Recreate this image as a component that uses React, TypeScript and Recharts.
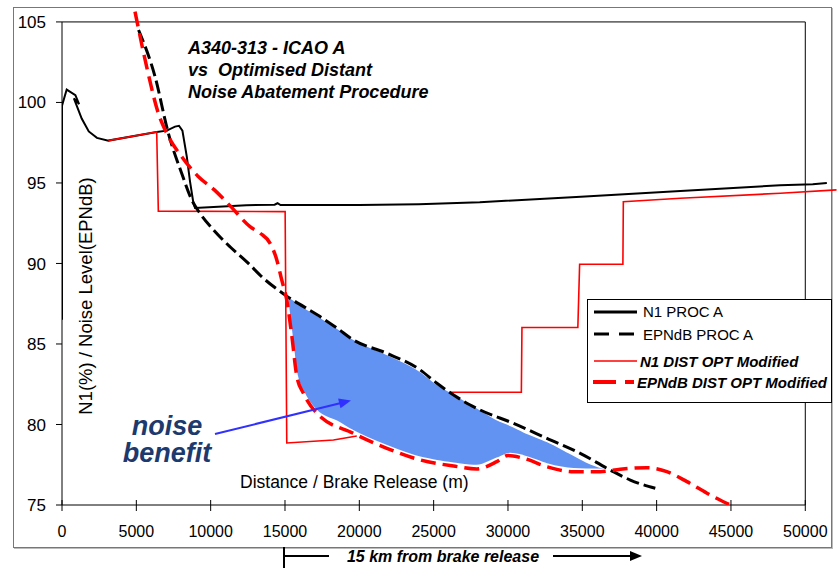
import React from 'react';
import {
  ComposedChart, Line, Area, XAxis, YAxis, ReferenceArea, Legend,
} from 'recharts';

// distance from brake release (m), value
const n1ProcA: [number, number][] = [
  [0, 86.5], [0, 99.8], [316, 100.8], [900, 100.45], [1150, 99.9], [800, 100.25],
  [1325, 99.0], [1800, 98.2], [2350, 97.8], [3120, 97.63], [6370, 98.17],
  [7050, 98.25], [7600, 98.5], [7870, 98.55], [8100, 98.25], [8400, 96.6],
  [8610, 95.1], [8840, 93.75], [8950, 93.45], [10200, 93.5], [12400, 93.62],
  [14300, 93.65], [14500, 93.74], [14700, 93.63], [16000, 93.63], [20000, 93.63],
  [24000, 93.68], [28100, 93.8], [34900, 94.15], [41600, 94.5], [48300, 94.86],
  [50500, 94.92], [51450, 95.0],
];

const epndbProcA: [number, number][] = [
  [5150, 104.5], [6260, 101.6], [7150, 98.1], [8050, 95.6], [8730, 93.94],
  [9290, 93.1], [10190, 92.08], [11300, 91.04], [12430, 90.1], [13550, 89.08],
  [15000, 88.05], [17360, 86.7], [18480, 86.0], [19600, 85.25], [21850, 84.42],
  [24090, 83.39], [25220, 82.56], [27460, 81.21], [28130, 80.9], [30370, 80.07],
  [32620, 79.14], [34860, 78.21], [36880, 77.17], [38230, 76.55], [39910, 76.04],
];

// N1 DIST OPT: the stretch under the noise-benefit band is hidden in the source
const n1DistOptEarly: [number, number][] = [
  [3120, 97.63], [6370, 98.17], [6480, 93.25], [15010, 93.22], [15120, 78.85],
  [18260, 79.04], [19830, 79.28],
];
const n1DistOptLate: [number, number][] = [
  [26100, 82.0], [30900, 82.0], [30940, 86.02], [34700, 86.02], [34820, 89.95],
  [37730, 89.95], [37760, 93.84], [41590, 94.05], [48320, 94.36], [52100, 94.57],
];

const epndbDistOpt: [number, number][] = [
  [4910, 105.64], [5700, 102.2], [6480, 99.33], [7040, 98.09], [8050, 96.63],
  [9180, 95.39], [10250, 94.57], [11360, 93.53], [12650, 92.29], [13330, 91.88],
  [14000, 91.25], [14450, 90.22], [14780, 88.98], [15120, 87.73], [15460, 85.5],
  [15800, 82.97], [16240, 81.94], [17140, 80.7], [19600, 79.45], [21850, 78.52],
  [24090, 77.8], [26340, 77.42], [27900, 77.24], [29250, 77.69], [30000, 78.08],
  [31050, 77.9], [32620, 77.38], [34410, 77.07], [36210, 77.07], [37550, 77.22],
  [39350, 77.32], [40690, 77.07], [42040, 76.45], [43390, 75.73], [44960, 75.0],
];

// noise benefit band: distance, lower, upper
const benefitBand: [number, number, number][] = [
  [15150, 87.95, 87.95], [15460, 85.6, 87.8], [15800, 83.1, 87.6],
  [16240, 82.05, 87.3], [17140, 80.85, 86.8], [18480, 80.2, 86.0],
  [19600, 79.6, 85.3], [21850, 78.68, 84.35], [24090, 77.96, 83.3],
  [25220, 77.75, 82.5], [26340, 77.6, 81.9], [27900, 77.45, 81.05],
  [29250, 77.9, 80.3], [30150, 78.2, 79.95], [31050, 78.05, 79.55],
  [32620, 77.55, 78.95], [34410, 77.25, 78.1], [35600, 77.22, 77.55],
  [36800, 77.2, 77.2],
];

const xTicks = [0, 5000, 10000, 15000, 20000, 25000, 30000, 35000, 40000, 45000, 50000];
const yTicks = [75, 80, 85, 90, 95, 100, 105];

const titleLines = ['A340-313 - ICAO A', 'vs  Optimised Distant', 'Noise Abatement Procedure'];

const FONT = "'Liberation Sans', Arial, sans-serif";

const toPts = (arr: [number, number][]) => arr.map(([x, y]) => ({ x, y }));

const XTick = ({ x, y, payload }: any) => (
  <g>
    <line x1={x} x2={x} y1={y - 5} y2={y + 6} stroke="#000" />
    <text x={x} y={y + 32} textAnchor="middle" fontSize={16} fill="#000" fontFamily={FONT}>
      {payload.value}
    </text>
  </g>
);

const LegendBox = () => (
  <div style={{
    width: 245, height: 104, boxSizing: 'border-box', border: '1px solid #000',
    background: '#fff',
  }}>
    <svg width={243} height={102} style={{ display: 'block' }} fontFamily={FONT}>
      <line x1={6} x2={49} y1={12} y2={12} stroke="#000" strokeWidth={3} />
      <text x={55} y={17} fontSize={15}>N1 PROC A</text>
      <line x1={6} x2={46} y1={34} y2={34} stroke="#000" strokeWidth={3} strokeDasharray="15 10" />
      <text x={55} y={39.5} fontSize={15}>EPNdB PROC A</text>
      <line x1={6} x2={49} y1={61} y2={61} stroke="#ff0000" strokeWidth={1.5} />
      <text x={52} y={66.5} fontSize={15} fontWeight="bold" fontStyle="italic">N1 DIST OPT Modified</text>
      <line x1={5} x2={46} y1={82} y2={82} stroke="#ff0000" strokeWidth={4} strokeDasharray="23 9" />
      <text x={49} y={87.5} fontSize={15} fontWeight="bold" fontStyle="italic">EPNdB DIST OPT Modified</text>
    </svg>
  </div>
);

export default function App() {
  const bandRows = benefitBand.map(([x, lo, hi]) => ({ x, range: [lo, hi] }));
  return (
    <div style={{ position: 'absolute', left: 0, top: 0, width: 839, height: 568, background: '#fff', fontFamily: FONT }}>
      <div style={{
        position: 'absolute', left: 13, top: 7, width: 819, height: 541,
        boxSizing: 'border-box', border: '1px solid #777', boxShadow: '1px 1px 0 #bbb',
      }} />
      <div style={{ position: 'absolute', left: 0, top: 0 }}>
        <ComposedChart width={839} height={568} margin={{ top: 1, right: 1, bottom: 33, left: 0 }}>
          <XAxis
            type="number" dataKey="x" domain={[0, 52200]} ticks={xTicks} interval={0}
            allowDataOverflow axisLine={false} tickLine={false} tickSize={0} tickMargin={0}
            height={30} tick={(p: any) => <XTick {...p} />}
          />
          <YAxis
            type="number" domain={[75, 106.3]} ticks={yTicks} interval={0} allowDataOverflow
            axisLine={false} tickLine={{ stroke: '#000' }} tickSize={6} tickMargin={10} width={62}
            tick={{ fill: '#000', fontSize: 17, fontFamily: FONT }}
          />
          <ReferenceArea x1={0} x2={50000} y1={75} y2={105} fill="none" stroke="#000" strokeWidth={1} />
          <Area data={bandRows} dataKey="range" type="monotone" fill="#6393F2" fillOpacity={1}
            stroke="#fff" strokeWidth={1.5} isAnimationActive={false} legendType="none" />
          <Line data={toPts(n1ProcA)} dataKey="y" type="linear" stroke="#000" strokeWidth={2}
            dot={false} isAnimationActive={false} name="N1 PROC A" />
          <Line data={toPts(n1DistOptEarly)} dataKey="y" type="linear" stroke="#ff0000" strokeWidth={1.6}
            dot={false} isAnimationActive={false} name="N1 DIST OPT Modified" />
          <Line data={toPts(n1DistOptLate)} dataKey="y" type="linear" stroke="#ff0000" strokeWidth={1.6}
            dot={false} isAnimationActive={false} legendType="none" />
          <Line data={toPts(epndbProcA)} dataKey="y" type="monotone" stroke="#000" strokeWidth={3}
            strokeDasharray="13 5" dot={false} isAnimationActive={false} name="EPNdB PROC A" />
          <Line data={toPts(epndbDistOpt)} dataKey="y" type="monotone" stroke="#ff0000" strokeWidth={3.5}
            strokeDasharray="15 7" dot={false} isAnimationActive={false} name="EPNdB DIST OPT Modified" />
          <Legend
            layout="horizontal" verticalAlign="middle" align="center"
            content={() => <LegendBox />}
            wrapperStyle={{ left: 587, top: 299, width: 245, height: 104 }}
          />
        </ComposedChart>
      </div>
      <svg width={839} height={568} style={{ position: 'absolute', left: 0, top: 0, pointerEvents: 'none' }}
        fontFamily={FONT}>
        {titleLines.map((t, i) => (
          <text key={t} x={188} y={54 + i * 22} fontSize={18} fontWeight="bold" fontStyle="italic" fill="#000"
            style={{ whiteSpace: 'pre' }}>
            {t}
          </text>
        ))}
        <text transform="translate(91.5,296) rotate(-90)" textAnchor="middle" fontSize={18.5} fill="#000">
          N1(%) / Noise Level(EPNdB)
        </text>
        <text x={240} y={488} fontSize={17.5} fill="#000">Distance / Brake Release (m)</text>
        <text x={167} y={435} textAnchor="middle" fontSize={27} fontWeight="bold" fontStyle="italic" fill="#1c3a6e">noise</text>
        <text x={167} y={462} textAnchor="middle" fontSize={27} fontWeight="bold" fontStyle="italic" fill="#1c3a6e">benefit</text>
        <line x1={215} y1={434} x2={341} y2={403} stroke="#3030ff" strokeWidth={2} />
        <polygon points="351,400.5 340.5,408.2 338.1,398.5" fill="#3030ff" />
        <line x1={284} y1={547} x2={284} y2={568} stroke="#000" strokeWidth={2} />
        <line x1={284} y1={556} x2={329} y2={556} stroke="#000" strokeWidth={2} />
        <text x={443} y={562} textAnchor="middle" fontSize={16} fontWeight="bold" fontStyle="italic" fill="#000">
          15 km from brake release
        </text>
        <line x1={553} y1={556} x2={632} y2={556} stroke="#000" strokeWidth={2} />
        <polygon points="642,556 630,551 630,561" fill="#000" />
      </svg>
    </div>
  );
}
